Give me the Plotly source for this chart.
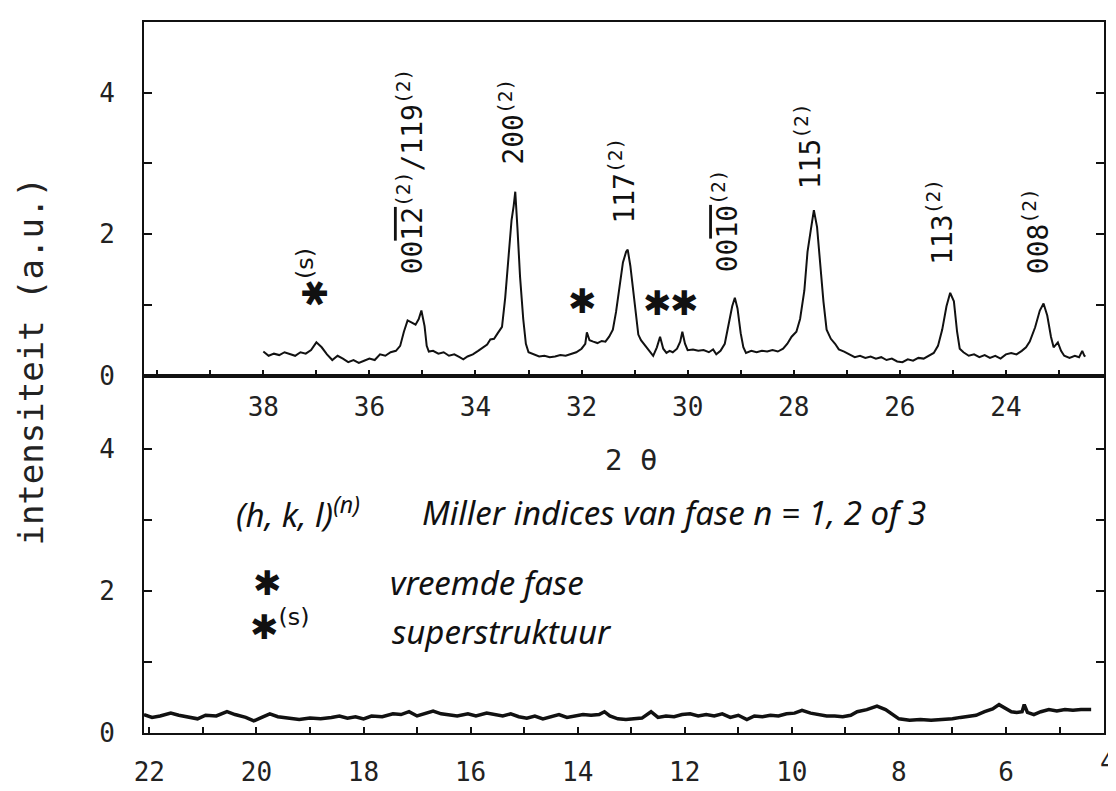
import plotly.graph_objects as go

# ---------------- data ----------------
# upper panel: 2-theta 38 .. 22.5
upper_2theta = [
    38.00, 37.90, 37.80, 37.70, 37.60, 37.50, 37.40, 37.30, 37.20, 37.10,
    37.00, 36.90, 36.80, 36.70, 36.60, 36.50, 36.40, 36.30, 36.20, 36.10,
    36.00, 35.90, 35.80, 35.70, 35.60, 35.50, 35.42, 35.35, 35.28, 35.20,
    35.13, 35.07, 35.02, 34.96, 34.92, 34.88, 34.80, 34.70, 34.60, 34.50,
    34.40, 34.30, 34.23, 34.15, 34.05, 33.95, 33.85, 33.78, 33.72, 33.65,
    33.58, 33.50, 33.44, 33.38, 33.32, 33.28, 33.25, 33.21, 33.16, 33.10,
    33.05, 33.00, 32.90, 32.80, 32.70, 32.60, 32.50, 32.40, 32.30, 32.20,
    32.10, 32.00, 31.93, 31.90, 31.85, 31.78, 31.70, 31.62, 31.55, 31.48,
    31.41, 31.35, 31.28, 31.22, 31.16, 31.13, 31.08, 31.03, 30.98, 30.93,
    30.88, 30.80, 30.72, 30.65, 30.58, 30.52, 30.46, 30.40, 30.34, 30.28,
    30.20, 30.14, 30.10, 30.05, 30.00, 29.90, 29.80, 29.70, 29.60, 29.52,
    29.46, 29.38, 29.30, 29.22, 29.16, 29.11, 29.06, 29.00, 28.95, 28.90,
    28.80, 28.70, 28.60, 28.50, 28.40, 28.30, 28.20, 28.12, 28.04, 27.95,
    27.88, 27.80, 27.74, 27.68, 27.62, 27.56, 27.50, 27.44, 27.38, 27.30,
    27.22, 27.15, 27.05, 26.95, 26.85, 26.75, 26.65, 26.55, 26.45, 26.35,
    26.25, 26.15, 26.05, 25.95, 25.85, 25.75, 25.65, 25.55, 25.45, 25.36,
    25.28, 25.20, 25.12, 25.05, 24.98, 24.92, 24.87, 24.80, 24.70, 24.60,
    24.50, 24.40, 24.30, 24.20, 24.10, 24.00, 23.90, 23.80, 23.70, 23.62,
    23.55, 23.45, 23.36, 23.29, 23.22, 23.15, 23.10, 23.05, 23.02, 22.96,
    22.90, 22.80, 22.70, 22.62, 22.56, 22.52, 22.50,
]
upper_intensity = [
    0.34, 0.28, 0.31, 0.29, 0.33, 0.30, 0.28, 0.33, 0.31, 0.36,
    0.47, 0.40, 0.30, 0.22, 0.28, 0.24, 0.19, 0.22, 0.18, 0.21,
    0.24, 0.22, 0.30, 0.28, 0.33, 0.35, 0.42, 0.62, 0.78, 0.75,
    0.72, 0.80, 0.92, 0.70, 0.42, 0.34, 0.35, 0.31, 0.33, 0.28,
    0.30, 0.26, 0.23, 0.27, 0.30, 0.35, 0.40, 0.44, 0.51, 0.52,
    0.60, 0.69, 1.10, 1.60, 2.20, 2.40, 2.60, 2.10, 1.40, 0.80,
    0.45, 0.33, 0.30, 0.27, 0.28, 0.26, 0.27, 0.29, 0.28, 0.31,
    0.33, 0.38, 0.45, 0.61, 0.50, 0.48, 0.46, 0.49, 0.48, 0.55,
    0.65, 0.90, 1.30, 1.60, 1.75, 1.78, 1.55, 1.20, 0.90, 0.58,
    0.50, 0.42, 0.35, 0.28, 0.40, 0.55, 0.38, 0.32, 0.35, 0.33,
    0.38, 0.48, 0.62, 0.45, 0.36, 0.37, 0.35, 0.36, 0.33, 0.37,
    0.30, 0.35, 0.45, 0.75, 0.98, 1.10, 0.95, 0.60, 0.40, 0.32,
    0.35, 0.33, 0.35, 0.34, 0.36, 0.34, 0.38, 0.45, 0.55, 0.62,
    0.80, 1.20, 1.75, 2.05, 2.34, 2.10, 1.55, 1.05, 0.65, 0.52,
    0.45, 0.37, 0.34, 0.30, 0.26, 0.28, 0.25, 0.27, 0.24, 0.26,
    0.22, 0.24, 0.20, 0.19, 0.23, 0.21, 0.25, 0.24, 0.28, 0.32,
    0.42, 0.65, 0.98, 1.17, 1.05, 0.62, 0.38, 0.33, 0.28, 0.30,
    0.26, 0.29, 0.25, 0.28, 0.24, 0.30, 0.32, 0.30, 0.35, 0.40,
    0.48, 0.68, 0.92, 1.02, 0.85, 0.55, 0.40, 0.44, 0.47, 0.35,
    0.28, 0.25, 0.28, 0.26, 0.35, 0.28, 0.27,
]

# lower panel: 2-theta 22 .. 4.4
lower_2theta = [
    22.10, 21.95, 21.80, 21.60, 21.45, 21.30, 21.10, 20.95, 20.75, 20.55,
    20.40, 20.20, 20.05, 19.90, 19.75, 19.60, 19.40, 19.20, 19.00, 18.80,
    18.60, 18.45, 18.30, 18.15, 18.00, 17.85, 17.65, 17.45, 17.30, 17.15,
    17.00, 16.85, 16.70, 16.55, 16.40, 16.25, 16.05, 15.90, 15.70, 15.55,
    15.40, 15.25, 15.10, 14.95, 14.80, 14.65, 14.50, 14.35, 14.20, 14.05,
    13.90, 13.75, 13.60, 13.50, 13.40, 13.25, 13.10, 12.95, 12.80, 12.63,
    12.50, 12.35, 12.20, 12.05, 11.90, 11.75, 11.60, 11.45, 11.30, 11.15,
    11.00, 10.84, 10.70, 10.55, 10.40, 10.25, 10.10, 9.95, 9.81, 9.65,
    9.50, 9.35, 9.20, 9.05, 8.90, 8.78, 8.60, 8.41, 8.25, 8.10,
    8.00, 7.80, 7.60, 7.40, 7.20, 7.00, 6.85, 6.70, 6.56, 6.40,
    6.25, 6.13, 6.00, 5.90, 5.80, 5.70, 5.66, 5.60, 5.48, 5.35,
    5.20, 5.05, 4.90, 4.75, 4.60, 4.41,
]
lower_intensity = [
    0.26, 0.22, 0.24, 0.28, 0.25, 0.23, 0.20, 0.25, 0.24, 0.30,
    0.26, 0.22, 0.17, 0.22, 0.27, 0.23, 0.21, 0.19, 0.21, 0.20,
    0.22, 0.24, 0.21, 0.23, 0.20, 0.24, 0.23, 0.27, 0.26, 0.30,
    0.24, 0.28, 0.31, 0.27, 0.25, 0.24, 0.27, 0.24, 0.28, 0.26,
    0.24, 0.27, 0.23, 0.21, 0.24, 0.20, 0.23, 0.26, 0.22, 0.24,
    0.26, 0.25, 0.26, 0.30, 0.24, 0.20, 0.19, 0.20, 0.21, 0.30,
    0.22, 0.24, 0.23, 0.26, 0.27, 0.24, 0.26, 0.24, 0.27, 0.22,
    0.25, 0.19, 0.24, 0.23, 0.25, 0.24, 0.27, 0.28, 0.32, 0.28,
    0.26, 0.24, 0.24, 0.23, 0.25, 0.30, 0.33, 0.38, 0.33, 0.26,
    0.20, 0.18, 0.19, 0.18, 0.19, 0.20, 0.22, 0.24, 0.25, 0.30,
    0.34, 0.40, 0.34, 0.30, 0.29, 0.30, 0.40, 0.29, 0.26, 0.30,
    0.33, 0.31, 0.33, 0.32, 0.33, 0.33,
]

# tick labels
upper_tick_values = list(range(23, 41))
upper_tick_text = [str(v) if (v % 2 == 0 and 24 <= v <= 38) else " " for v in upper_tick_values]
lower_tick_values = list(range(5, 23))
lower_tick_text = [str(v) if v % 2 == 0 else " " for v in lower_tick_values]
y_tick_values = [0, 1, 2, 3, 4]
y_tick_text = ["0", " ", "2", " ", "4"]
last_lower_tick_label = "4"

OVER = '<span style="text-decoration:overline">{}</span>'
# peak labels (text, 2-theta, bottom of label in intensity units)
peak_labels = [
    ("00" + OVER.format("12") + "<sup>(2)</sup>/119<sup>(2)</sup>", 35.22, 1.40),
    ("200<sup>(2)</sup>", 33.30, 2.95),
    ("117<sup>(2)</sup>", 31.22, 2.12),
    ("00" + OVER.format("10") + "<sup>(2)</sup>", 29.27, 1.43),
    ("115<sup>(2)</sup>", 27.72, 2.60),
    ("113<sup>(2)</sup>", 25.22, 1.54),
    ("008<sup>(2)</sup>", 23.42, 1.40),
]
# foreign-phase stars (2-theta, intensity)
star_positions = [(31.98, 1.06), (30.57, 1.03), (30.06, 1.03)]
superstructure_star = (37.06, 0.93)

MONO = "DejaVu Sans Mono"
HAND = "Noto Sans"
INK = "#111111"

fig = go.Figure()
fig.add_trace(go.Scatter(x=upper_2theta, y=upper_intensity, mode="lines",
                         line=dict(color=INK, width=2), xaxis="x", yaxis="y",
                         showlegend=False, hoverinfo="skip"))
fig.add_trace(go.Scatter(x=lower_2theta, y=lower_intensity, mode="lines",
                         line=dict(color=INK, width=3.5), xaxis="x2", yaxis="y2",
                         showlegend=False, hoverinfo="skip"))

split = 0.5027
tickfont = dict(family=MONO, size=26, color="#222222")

fig.update_layout(
    width=1116, height=791,
    margin=dict(l=136, r=20, t=13, b=48),
    paper_bgcolor="white", plot_bgcolor="white",
    xaxis=dict(domain=[0, 1], anchor="y", range=[40.25, 22.15],
               tickmode="array", tickvals=upper_tick_values, ticktext=upper_tick_text,
               ticks="inside", ticklen=6, tickwidth=1.5, tickcolor=INK,
               showline=True, linecolor=INK, linewidth=2, mirror=True,
               showgrid=False, zeroline=False, tickfont=tickfont,
               ticklabelstandoff=7),
    xaxis3=dict(overlaying="x", anchor="y", side="top", range=[40.25, 22.15],
                tickmode="array", tickvals=upper_tick_values,
                ticks="inside", ticklen=18, tickwidth=1.5, tickcolor=INK,
                showticklabels=False, showline=False, showgrid=False, zeroline=False),
    yaxis=dict(domain=[split, 1], anchor="x", range=[0, 5.0],
               tickmode="array", tickvals=y_tick_values, ticktext=y_tick_text,
               ticks="inside", ticklen=8, tickwidth=1.5, tickcolor=INK,
               showline=True, linecolor=INK, linewidth=2, mirror="ticks",
               showgrid=False, zeroline=False, tickfont=tickfont,
               ticklabelstandoff=22),
    xaxis2=dict(domain=[0, 1], anchor="y2", range=[22.1, 4.17],
                tickmode="array", tickvals=lower_tick_values, ticktext=lower_tick_text,
                ticks="inside", ticklen=6, tickwidth=1.5, tickcolor=INK,
                showline=True, linecolor=INK, linewidth=2, mirror=True,
                showgrid=False, zeroline=False, tickfont=tickfont,
                ticklabelstandoff=15),
    yaxis2=dict(domain=[0, split], anchor="x2", range=[0, 5.04],
                tickmode="array", tickvals=y_tick_values, ticktext=y_tick_text,
                ticks="inside", ticklen=8, tickwidth=1.5, tickcolor=INK,
                showline=True, linecolor=INK, linewidth=2, mirror="ticks",
                showgrid=False, zeroline=False, tickfont=tickfont,
                ticklabelstandoff=22),
)

ann = []
# y-axis title spanning both panels
ann.append(dict(text="intensiteit (a.u.)", xref="paper", yref="paper",
                x=-0.118, y=0.522, xanchor="center", yanchor="middle",
                textangle=-90, showarrow=False,
                font=dict(family=MONO, size=34, color="#222222")))
# x-axis title
ann.append(dict(text="2 \u03b8", xref="x2", yref="y2", x=13.0, y=3.85,
                xanchor="center", yanchor="middle", showarrow=False,
                font=dict(family=MONO, size=29, color="#222222")))
# last lower tick label, sitting just beyond the frame at the picture's edge
ann.append(dict(text=last_lower_tick_label, xref="paper", yref="paper",
                x=1.004, y=0, xanchor="center", yanchor="top",
                yshift=-12, showarrow=False, font=tickfont))
# peak labels
for text, xv, yv in peak_labels:
    ann.append(dict(text=text, xref="x", yref="y", x=xv, y=yv,
                    xanchor="center", yanchor="bottom", textangle=-90,
                    showarrow=False, font=dict(family=MONO, size=28, color=INK)))
# stars
STAR = dict(family="DejaVu Sans", size=34, color=INK)
for xv, yv in star_positions:
    ann.append(dict(text="\u2731", xref="x", yref="y", x=xv, y=yv,
                    xanchor="center", yanchor="middle", showarrow=False, font=STAR))
ann.append(dict(text="\u2731<sup>(s)</sup>", xref="x", yref="y",
                x=superstructure_star[0], y=superstructure_star[1],
                xanchor="center", yanchor="bottom", textangle=-90, showarrow=False,
                font=STAR))
# hand-written key in the lower panel
hand = dict(family=HAND, size=33, color=INK)
ann.append(dict(text="<i>(h, k, l)<sup>(n)</sup></i>", xref="x2", yref="y2",
                x=20.42, y=3.11, xanchor="left", yanchor="middle",
                showarrow=False, font=hand))
ann.append(dict(text="<i>Miller indices van fase n = 1, 2 of 3</i>", xref="x2", yref="y2",
                x=16.95, y=3.11, xanchor="left", yanchor="middle",
                showarrow=False, font=hand))
ann.append(dict(text="\u2731", xref="x2", yref="y2", x=19.8, y=2.12,
                xanchor="center", yanchor="middle", showarrow=False, font=STAR))
ann.append(dict(text="<i>vreemde fase</i>", xref="x2", yref="y2",
                x=17.55, y=2.12, xanchor="left", yanchor="middle",
                showarrow=False, font=hand))
ann.append(dict(text="\u2731<sup>(s)</sup>", xref="x2", yref="y2", x=20.15, y=1.52,
                xanchor="left", yanchor="middle", showarrow=False, font=STAR))
ann.append(dict(text="<i>superstruktuur</i>", xref="x2", yref="y2",
                x=17.5, y=1.43, xanchor="left", yanchor="middle",
                showarrow=False, font=hand))

fig.update_layout(annotations=ann)
fig.write_html("out.html")
